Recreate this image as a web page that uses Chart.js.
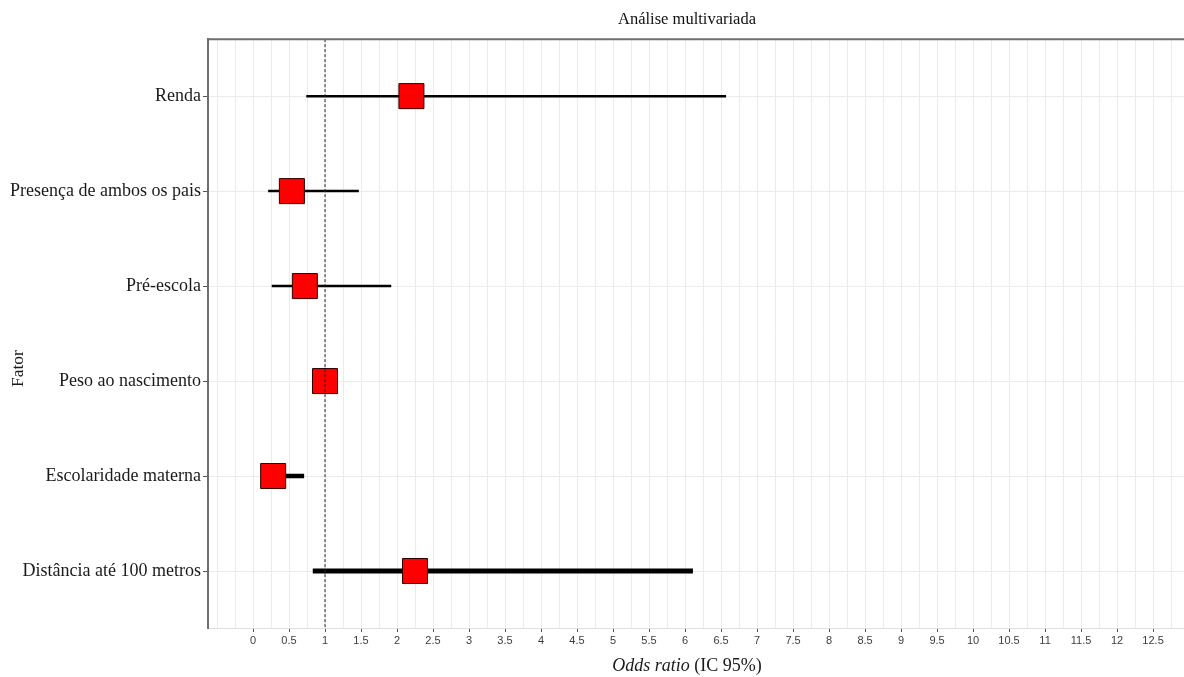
<!DOCTYPE html>
<html>
<head>
<meta charset="utf-8">
<script src="https://cdn.jsdelivr.net/npm/chart.js@4/dist/chart.umd.min.js"></script>
<style>
  html, body { margin: 0; padding: 0; background: #fff; overflow: hidden; }
  #wrap { position: relative; width: 1184px; height: 677px; }
  #c { position: absolute; left: 0; top: 0; }
  .ttl { position: absolute; font-family: 'Liberation Serif', 'DejaVu Serif', serif; color: #1a1a1a; white-space: nowrap; line-height: 1; }
  #xtitle { left: 687px; top: 656px; transform: translateX(-50%); font-size: 18px; }
  #ytitle { left: 9px; top: 350px; width: 18px; height: 38px; font-size: 17.5px; }
  #ytitle span { position: absolute; left: 0; top: 0; transform-origin: 0 0; transform: translate(0px, 37px) rotate(-90deg); }
</style>
</head>
<body>
<div id="wrap">
  <canvas id="c" width="1184" height="677"></canvas>
  <div class="ttl" id="xtitle"><i>Odds ratio</i> (IC 95%)</div>
  <div class="ttl" id="ytitle"><span>Fator</span></div>
</div>
<script>
// ---- data ----
const factors = ['Renda', 'Presença de ambos os pais', 'Pré-escola', 'Peso ao nascimento', 'Escolaridade materna', 'Distância até 100 metros'];
const oddsRatio = [2.20, 0.54, 0.72, 1.00, 0.28, 2.25];
const ciLower = [0.74, 0.21, 0.26, 0.92, 0.12, 0.83];
const ciUpper = [6.57, 1.47, 1.92, 1.08, 0.71, 6.11];
const xTickLabels = ['0','0.5','1','1.5','2','2.5','3','3.5','4','4.5','5','5.5','6','6.5','7','7.5','8','8.5','9','9.5','10','10.5','11','11.5','12','12.5'];
const referenceValue = 1;

// ---- styles (not data) ----
const ciLineWidths = [2.5, 2.5, 2.5, 2.5, 4.5, 5];
const xMin = -0.625, xMax = 12.93;
const yMin = -0.6, yMax = factors.length - 1 + 0.6;
const majorValues = xTickLabels.map(Number);
const gridValues = [];
for (let v = -0.5; v <= 12.75 + 1e-9; v += 0.25) gridValues.push(Math.round(v * 100) / 100);
const isMajor = v => majorValues.some(m => Math.abs(m - v) < 1e-6);

const datasets = [];
// reference line (on top)
datasets.push({
  type: 'line', label: 'ref', order: 0,
  data: [{x: referenceValue, y: yMin}, {x: referenceValue, y: yMax}],
  borderColor: '#222', borderWidth: 1, borderDash: [3, 2], pointRadius: 0, fill: false
});
// boxes
datasets.push({
  type: 'scatter', label: 'OR', order: 1,
  data: factors.map((f, i) => ({x: oddsRatio[i], y: i})),
  pointStyle: 'rect', pointRadius: 17.7, pointHoverRadius: 17.7,
  backgroundColor: '#ff0000', borderColor: '#2a0000', borderWidth: 1
});
// CI lines
factors.forEach((f, i) => {
  datasets.push({
    type: 'line', label: 'IC ' + f, order: 2,
    data: [{x: ciLower[i], y: i}, {x: ciUpper[i], y: i}],
    borderColor: '#000', borderWidth: ciLineWidths[i], borderCapStyle: 'butt',
    pointRadius: 0, fill: false
  });
});

const framePlugin = {
  id: 'frame',
  afterLayout(chart) {
    // centre the title as in the original figure
    if (chart.titleBlock) { chart.titleBlock.right -= 18; }
  },
  afterDraw(chart) {
    const {ctx, chartArea} = chart;
    ctx.save();
    ctx.strokeStyle = '#6e6e6e';
    ctx.lineWidth = 2;
    ctx.beginPath();
    ctx.moveTo(chartArea.left, chartArea.top);
    ctx.lineTo(chartArea.right, chartArea.top);
    ctx.stroke();
    ctx.restore();
  }
};

new Chart(document.getElementById('c'), {
  type: 'scatter',
  data: { datasets },
  plugins: [framePlugin],
  options: {
    responsive: false,
    animation: false,
    layout: { padding: 0, autoPadding: false },
    plugins: {
      legend: { display: false },
      tooltip: { enabled: false },
      title: {
        display: true, text: 'Análise multivariada', fullSize: false,
        color: '#111', font: { family: "'Liberation Serif', serif", size: 16.5, weight: 'normal', lineHeight: 1.1 },
        padding: { top: 11, bottom: 10 }
      }
    },
    scales: {
      x: {
        type: 'linear', min: xMin, max: xMax,
        afterBuildTicks: s => { s.ticks = gridValues.map(v => ({value: v})); },
        afterFit: s => { s.height = 49; s.paddingLeft = 0; s.paddingRight = 0; },
        ticks: {
          autoSkip: false, maxRotation: 0, padding: 2,
          color: '#3d3d3d', font: { family: "'Liberation Sans', Arial, sans-serif", size: 11 },
          callback: v => { const idx = majorValues.findIndex(m => Math.abs(m - v) < 1e-6); return idx >= 0 ? xTickLabels[idx] : ''; }
        },
        grid: {
          color: '#ebebeb', lineWidth: 1, drawTicks: true, tickLength: 4,
          tickColor: c => (c.tick && isMajor(c.tick.value)) ? '#555' : 'rgba(0,0,0,0)'
        },
        border: { display: true, color: '#dddddd', width: 1 }
      },
      y: {
        type: 'linear', reverse: true, min: yMin, max: yMax,
        afterBuildTicks: s => { s.ticks = factors.map((f, i) => ({value: i})); },
        afterFit: s => { s.width = 208; s.paddingTop = 0; s.paddingBottom = 0; },
        ticks: {
          autoSkip: false, padding: 2,
          color: '#1a1a1a', font: { family: "'Liberation Serif', serif", size: 18 },
          callback: v => factors[Math.round(v)] || ''
        },
        grid: { color: '#ebebeb', lineWidth: 1, drawTicks: true, tickLength: 5, tickColor: '#555' },
        border: { display: true, color: '#6e6e6e', width: 2 }
      }
    }
  }
});
</script>
</body>
</html>
